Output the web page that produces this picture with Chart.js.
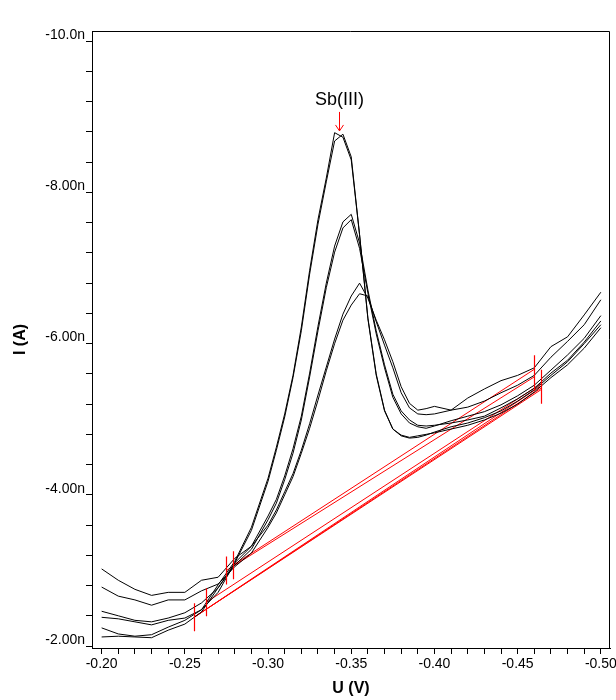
<!DOCTYPE html>
<html>
<head>
<meta charset="utf-8">
<script src="https://cdn.jsdelivr.net/npm/chart.js@4.4.0/dist/chart.umd.min.js"></script>
<style>
html, body { margin: 0; padding: 0; background: #fff; }
</style>
</head>
<body>
<canvas id="myChart" width="616" height="700"></canvas>
<script>
// potential (V) shared by all six scans
var potentials = [-0.20, -0.21, -0.22, -0.23, -0.24, -0.25, -0.26, -0.27, -0.28, -0.29, -0.30,
    -0.305, -0.31, -0.315, -0.32, -0.325, -0.33, -0.335, -0.34, -0.345, -0.35,
    -0.355, -0.36, -0.365, -0.37, -0.375, -0.38, -0.385, -0.39, -0.395, -0.40,
    -0.41, -0.42, -0.43, -0.44, -0.45, -0.46, -0.47, -0.48, -0.49, -0.50]

// currents (nA)
var scanA1 = [-2.24, -2.16, -2.13, -2.15, -2.25, -2.34, -2.48, -2.81, -3.12, -3.57, -4.22, -4.63, -5.07, -5.58, -6.22, -6.97, -7.64, -8.19, -8.79, -8.73, -8.43, -7.44, -6.33, -5.58, -5.11, -4.87, -4.79, -4.76, -4.78, -4.80, -4.82, -4.87, -4.92, -4.99, -5.08, -5.20, -5.36, -5.55, -5.72, -5.94, -6.21]
var scanA2 = [-2.12, -2.13, -2.12, -2.11, -2.21, -2.29, -2.45, -2.77, -3.10, -3.53, -4.18, -4.59, -5.03, -5.55, -6.17, -6.92, -7.58, -8.14, -8.68, -8.77, -8.47, -7.44, -6.34, -5.60, -5.12, -4.87, -4.78, -4.75, -4.76, -4.79, -4.83, -4.90, -4.95, -5.02, -5.11, -5.24, -5.39, -5.58, -5.76, -6.00, -6.25]
var scanB1 = [-2.38, -2.36, -2.32, -2.28, -2.34, -2.37, -2.48, -2.71, -3.10, -3.32, -3.72, -3.94, -4.25, -4.61, -5.04, -5.61, -6.23, -6.80, -7.29, -7.61, -7.71, -7.33, -6.71, -6.17, -5.72, -5.33, -5.11, -4.99, -4.92, -4.91, -4.92, -4.95, -4.99, -5.04, -5.15, -5.27, -5.41, -5.61, -5.78, -6.02, -6.30]
var scanB2 = [-2.46, -2.40, -2.34, -2.32, -2.37, -2.44, -2.57, -2.77, -3.07, -3.28, -3.67, -3.89, -4.20, -4.55, -4.99, -5.56, -6.17, -6.74, -7.21, -7.53, -7.64, -7.26, -6.67, -6.13, -5.68, -5.29, -5.07, -4.95, -4.90, -4.88, -4.91, -4.98, -5.04, -5.10, -5.19, -5.31, -5.45, -5.65, -5.85, -6.07, -6.37]
var scanC1 = [-3.02, -2.87, -2.75, -2.67, -2.71, -2.71, -2.87, -2.91, -3.16, -3.32, -3.60, -3.80, -4.04, -4.28, -4.59, -4.94, -5.32, -5.69, -6.06, -6.39, -6.63, -6.80, -6.60, -6.31, -6.05, -5.76, -5.43, -5.21, -5.12, -5.14, -5.17, -5.12, -5.28, -5.40, -5.51, -5.58, -5.68, -5.96, -6.09, -6.38, -6.68]
var scanC2 = [-2.78, -2.66, -2.61, -2.54, -2.61, -2.61, -2.73, -2.82, -3.05, -3.23, -3.57, -3.76, -4.00, -4.24, -4.55, -4.88, -5.25, -5.64, -6.00, -6.31, -6.51, -6.66, -6.63, -6.29, -5.98, -5.68, -5.35, -5.15, -5.07, -5.06, -5.07, -5.12, -5.16, -5.24, -5.35, -5.45, -5.58, -5.82, -6.03, -6.25, -6.58]

// peak baselines: start potential, start current, end potential, end current
var baseStartU = [-0.2555, -0.2555, -0.2555, -0.2630, -0.2790, -0.2750]
var baseStartI = [-2.38, -2.38, -2.38, -2.58, -3.07, -3.00]
var baseEndU = [-0.4640, -0.4640, -0.4640, -0.4640, -0.4600, -0.4600]
var baseEndI = [-5.41, -5.39, -5.44, -5.47, -5.66, -5.56]

// axis ticks
var xLabelValues = [-0.20, -0.25, -0.30, -0.35, -0.40, -0.45, -0.50]
var xLabels = ['-0.20', '-0.25', '-0.30', '-0.35', '-0.40', '-0.45', '-0.50']
var yLabelValues = [-10, -8, -6, -4, -2]
var yLabels = ['-10.0n', '-8.00n', '-6.00n', '-4.00n', '-2.00n']

// peak marker
var peakLabel = 'Sb(III)'
var peakU = -0.3425
var peakI = -8.80

var FONT = '"Liberation Sans", Arial, sans-serif'

var scans = [scanA1, scanA2, scanB1, scanB2, scanC1, scanC2]
var datasets = []
for (var s = 0; s < scans.length; s++) {
    var pts = []
    for (var x = 0; x < potentials.length; x++) {
        pts.push({x: potentials[x], y: scans[s][x]})
    }
    datasets.push({
        data: pts,
        showLine: true,
        borderColor: '#000',
        borderWidth: 1,
        pointRadius: 0,
        tension: 0
    })
}
for (var b = 0; b < baseStartU.length; b++) {
    datasets.push({
        data: [{x: baseStartU[b], y: baseStartI[b]}, {x: baseEndU[b], y: baseEndI[b]}],
        showLine: true,
        borderColor: '#ff0000',
        borderWidth: 1,
        pointRadius: 0
    })
}

var xTicks = []
for (var i = 0; i <= 30; i++) xTicks.push(+(-0.20 - i * 0.01).toFixed(2))
var yTicks = []
for (var j = 0; j <= 20; j++) yTicks.push(+(-10 + j * 0.4).toFixed(1))

function labelFor(values, labels, v) {
    for (var k = 0; k < values.length; k++) {
        if (Math.abs(values[k] - v) < 1e-6) return labels[k]
    }
    return ''
}

// top/right frame and the x tick labels (drawn here so they may overhang the plot edge)
var frame = {
    id: 'frame',
    afterDraw: function(chart) {
        var a = chart.chartArea, ctx = chart.ctx
        ctx.save()
        ctx.strokeStyle = '#000'
        ctx.lineWidth = 1
        ctx.beginPath()
        ctx.moveTo(a.left, a.top + 0.5)
        ctx.lineTo(a.right - 0.5, a.top + 0.5)
        ctx.lineTo(a.right - 0.5, a.bottom)
        ctx.stroke()
        ctx.fillStyle = '#000'
        ctx.font = '14px ' + FONT
        ctx.textAlign = 'center'
        ctx.textBaseline = 'middle'
        for (var k = 0; k < xLabelValues.length; k++) {
            ctx.fillText(xLabels[k], chart.scales.x.getPixelForValue(xLabelValues[k]), a.bottom + 16)
        }
        ctx.restore()
    }
}

// vertical red ticks at the baseline ends, and the Sb(III) arrow
var marks = {
    id: 'marks',
    afterDatasetsDraw: function(chart) {
        var ctx = chart.ctx, sx = chart.scales.x, sy = chart.scales.y
        ctx.save()
        ctx.strokeStyle = '#ff0000'
        ctx.lineWidth = 1.2
        ctx.beginPath()
        for (var k = 0; k < baseStartU.length; k++) {
            var ends = [[baseStartU[k], baseStartI[k]], [baseEndU[k], baseEndI[k]]]
            for (var e = 0; e < 2; e++) {
                var ex = Math.round(sx.getPixelForValue(ends[e][0])) + 0.5
                var ey = sy.getPixelForValue(ends[e][1])
                ctx.moveTo(ex, ey - 14)
                ctx.lineTo(ex, ey + 14)
            }
        }
        ctx.stroke()

        var px = Math.round(sx.getPixelForValue(peakU)) + 0.5
        var py = sy.getPixelForValue(peakI)
        ctx.lineWidth = 1
        ctx.beginPath()
        ctx.moveTo(px, py - 20)
        ctx.lineTo(px, py - 1)
        ctx.moveTo(px - 4, py - 7)
        ctx.lineTo(px, py - 1)
        ctx.lineTo(px + 4, py - 7)
        ctx.stroke()
        ctx.fillStyle = '#000'
        ctx.font = '18px ' + FONT
        ctx.textAlign = 'center'
        ctx.textBaseline = 'alphabetic'
        ctx.fillText(peakLabel, px, py - 27)
        ctx.restore()
    }
}

var ctx = document.getElementById('myChart').getContext('2d')
var chart = new Chart(ctx, {
    type: 'scatter',
    data: {datasets: datasets},
    plugins: [frame, marks],
    options: {
        responsive: false,
        animation: false,
        devicePixelRatio: 1,
        layout: {padding: {top: 31, right: 6, left: 0, bottom: 0}},
        plugins: {legend: {display: false}, tooltip: {enabled: false}},
        scales: {
            x: {
                type: 'linear',
                reverse: true,
                min: -0.5055,
                max: -0.1942,
                afterBuildTicks: function(axis) { axis.ticks = xTicks.map(function(v) { return {value: v} }) },
                afterFit: function(axis) { axis.height = 52 },
                ticks: {display: false},
                grid: {drawOnChartArea: false, tickLength: 6, color: '#000'},
                border: {color: '#000'},
                title: {display: true, text: 'U (V)', color: '#000', padding: {top: 0, bottom: 2},
                    font: {family: FONT, size: 16, weight: 'bold'}}
            },
            y: {
                type: 'linear',
                reverse: true,
                min: -10.135,
                max: -1.974,
                afterBuildTicks: function(axis) { axis.ticks = yTicks.map(function(v) { return {value: v} }) },
                afterFit: function(axis) { axis.width = 92 },
                ticks: {
                    autoSkip: false,
                    padding: 1,
                    labelOffset: -6,
                    color: '#000',
                    font: {family: FONT, size: 14},
                    callback: function(v) { return labelFor(yLabelValues, yLabels, v) }
                },
                grid: {drawOnChartArea: false, tickLength: 6, color: '#000'},
                border: {color: '#000'},
                title: {display: true, text: 'I (A)', color: '#000', padding: {top: 11, bottom: 0},
                    font: {family: FONT, size: 16, weight: 'bold'}}
            }
        }
    }
})
</script>
</body>
</html>
